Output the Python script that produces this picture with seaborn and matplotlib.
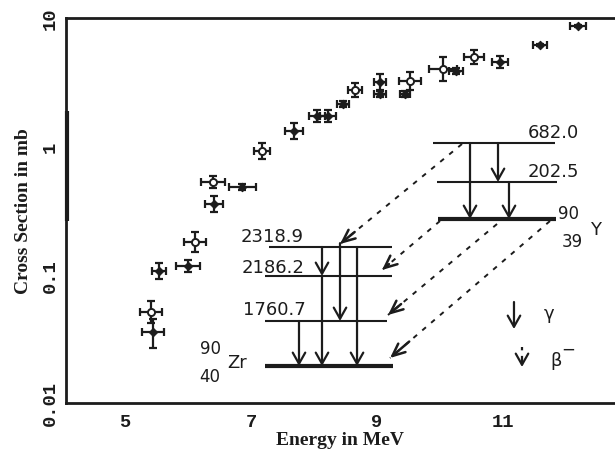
import numpy as np
import pandas as pd
import matplotlib
matplotlib.use("Agg")
import matplotlib.pyplot as plt
import seaborn as sns

# ---- data ----
energy = [5.41, 5.44, 5.54, 6.00, 6.11, 6.40, 6.41, 6.86, 7.17, 7.68, 8.05, 8.22,
          8.46, 8.65, 9.05, 9.05, 9.52, 9.44, 10.05, 10.25, 10.54, 10.95, 11.59, 12.19]
sigma = [0.051, 0.036, 0.107, 0.117, 0.180, 0.528, 0.356, 0.483, 0.92, 1.32, 1.73, 1.73,
         2.14, 2.75, 3.18, 2.56, 3.23, 2.56, 4.01, 3.87, 4.97, 4.55, 6.17, 8.68]
sigma_lo = [0.042, 0.0268, 0.093, 0.105, 0.150, 0.474, 0.309, 0.458, 0.797, 1.144, 1.554, 1.554,
            2.028, 2.425, 2.756, 2.427, 2.749, 2.427, 3.234, 3.668, 4.383, 4.088, 6.06, 8.53]
sigma_hi = [0.062, 0.045, 0.123, 0.130, 0.215, 0.588, 0.411, 0.510, 1.062, 1.523, 1.925, 1.925,
            2.258, 3.119, 3.670, 2.701, 3.795, 2.701, 4.972, 4.083, 5.636, 5.064, 6.28, 8.84]
energy_err = [0.175, 0.175, 0.11, 0.19, 0.175, 0.19, 0.14, 0.21, 0.13, 0.14, 0.13, 0.13,
              0.095, 0.11, 0.095, 0.095, 0.175, 0.08, 0.22, 0.11, 0.16, 0.13, 0.11, 0.13]
marker_kind = ["open", "filled", "filled", "filled", "open", "open", "filled", "filled",
               "open", "filled", "filled", "filled", "filled", "open", "filled", "filled",
               "open", "filled", "open", "filled", "open", "filled", "filled", "filled"]

x_ticks = [5, 6, 7, 8, 9, 10, 11, 12]
x_ticklabels = ["5", "", "7", "", "9", "", "11", ""]
y_ticks = [0.01, 0.1, 1, 10]
y_ticklabels = ["0.01", "0.1", "1", "10"]

# level scheme (schematic levels, keV)
zr_levels = ["2318.9", "2186.2", "1760.7"]
y_levels = ["682.0", "202.5"]

df = pd.DataFrame({"E": energy, "s": sigma, "kind": marker_kind})

sns.set_style("white")
plt.rcParams["font.family"] = ["DejaVu Sans"]

INK = "#1c1c1c"
fig = plt.figure(figsize=(6.15, 4.52), dpi=100)
ax = fig.add_axes([66 / 615, 1 - 404 / 452, 1 - 66 / 615, (404 - 19) / 452])

ax.errorbar(energy, sigma, xerr=energy_err,
            yerr=[np.array(sigma) - np.array(sigma_lo), np.array(sigma_hi) - np.array(sigma)],
            fmt="none", ecolor=INK, elinewidth=1.6, capsize=3, capthick=1.6, zorder=2)
sns.scatterplot(data=df[df.kind == "filled"], x="E", y="s", marker="D", s=18,
                color=INK, edgecolor=INK, linewidth=0.8, ax=ax, zorder=3, legend=False)
sns.scatterplot(data=df[df.kind == "open"], x="E", y="s", marker="o", s=26,
                facecolor="white", edgecolor=INK, linewidth=1.4, ax=ax, zorder=3, legend=False)

ax.set_yscale("log")
ax.set_xlim(4.06, 12.78)
ax.set_ylim(0.01, 10)

ax.set_xticks(x_ticks)
ax.set_xticklabels(x_ticklabels, fontfamily="Liberation Mono", fontsize=13.5, fontweight="bold")
ax.set_yticks(y_ticks)
ax.set_yticklabels(y_ticklabels, fontfamily="Liberation Mono", fontsize=13.5, fontweight="bold",
                   rotation=90, va="center")
ax.tick_params(axis="x", direction="in", length=6, width=2.2, pad=7, colors=INK)
ax.tick_params(axis="y", which="major", direction="in", length=8, width=1.6, pad=5, colors=INK)
ax.tick_params(axis="y", which="minor", direction="in", length=4, width=1.2, colors=INK)
ax.minorticks_on()
ax.tick_params(axis="x", which="minor", bottom=False)

for side in ["left", "bottom", "top"]:
    ax.spines[side].set_linewidth(2.0)
    ax.spines[side].set_color(INK)
ax.spines["right"].set_visible(False)
# darker stretch of the left frame, as in the scan
ax.plot([0.001, 0.001], [0.473, 0.758], color=INK, lw=3, transform=ax.transAxes, clip_on=False,
        solid_capstyle="butt", zorder=6)

ax.set_xlabel("Energy in MeV", fontfamily="Liberation Serif", fontsize=14, fontweight="bold",
              labelpad=1, color=INK)
ax.set_ylabel("Cross Section in mb", fontfamily="Liberation Serif", fontsize=14, fontweight="bold",
              labelpad=7, color=INK)

# ---- level scheme (axes-fraction coordinates) ----
T = ax.transAxes
def hline(x0, x1, y, lw=1.5):
    ax.plot([x0, x1], [y, y], color=INK, lw=lw, transform=T, zorder=4, solid_capstyle="butt")

def head(x0, y0, x1, y1, hl=0.8, hw=0.45, lw=1.6):
    ax.annotate("", xy=(x1, y1), xytext=(x0, y0), xycoords=T, textcoords=T,
                arrowprops=dict(arrowstyle=f"->,head_length={hl},head_width={hw}",
                                color=INK, lw=lw, shrinkA=0, shrinkB=0), zorder=5)

def garrow(x, y0, y1):
    head(x, y0, x, y1)

def barrow(x0, y0, x1, y1):
    ax.plot([x0, x1], [y0, y1], color=INK, lw=1.4, ls=(0, (2.5, 3.5)), transform=T, zorder=4)
    head(x1 + (x0 - x1) * 0.12, y1 + (y0 - y1) * 0.12, x1, y1, hl=0.9, hw=0.4, lw=1.8)

# Zr levels
zr_y = [0.4052, 0.3299, 0.2130]
hline(0.3698, 0.5938, zr_y[0])
hline(0.3625, 0.5938, zr_y[1])
hline(0.3625, 0.5850, zr_y[2])
hline(0.3625, 0.5956, 0.0961, lw=3.0)
for lab, yy, xx in zip(zr_levels, [0.4338, 0.3532, 0.2442], [0.3752, 0.3770, 0.3789]):
    ax.text(xx, yy, lab, transform=T, ha="center", va="center", fontsize=13, color=INK)
ax.text(0.2623, 0.1429, "90", transform=T, ha="center", va="center", fontsize=12, color=INK)
ax.text(0.3115, 0.1065, "Zr", transform=T, ha="center", va="center", fontsize=13, color=INK)
ax.text(0.2623, 0.0701, "40", transform=T, ha="center", va="center", fontsize=12, color=INK)

garrow(0.4244, zr_y[2], 0.0961)
garrow(0.4663, zr_y[0], zr_y[1])
garrow(0.4663, zr_y[1], 0.0961)
garrow(0.4991, zr_y[0] + 0.01, zr_y[2])
garrow(0.5301, zr_y[0], 0.0961)

# Y levels
yy_lv = [0.6753, 0.5740]
hline(0.6685, 0.8907, yy_lv[0])
hline(0.6758, 0.8944, yy_lv[1])
hline(0.6776, 0.8925, 0.4779, lw=3.0)
ax.text(0.8871, 0.7039, y_levels[0], transform=T, ha="center", va="center", fontsize=13, color=INK)
ax.text(0.8871, 0.6026, y_levels[1], transform=T, ha="center", va="center", fontsize=13, color=INK)
ax.text(0.9144, 0.4935, "90", transform=T, ha="center", va="center", fontsize=12, color=INK)
ax.text(0.9654, 0.4519, "Y", transform=T, ha="center", va="center", fontsize=13, color=INK)
ax.text(0.9217, 0.4208, "39", transform=T, ha="center", va="center", fontsize=12, color=INK)

garrow(0.7359, yy_lv[0], 0.4779)
garrow(0.7869, yy_lv[0], yy_lv[1])
garrow(0.8069, yy_lv[1], 0.4779)

# beta feeding (dashed)
barrow(0.7213, 0.6727, 0.4991, 0.4130)
barrow(0.6812, 0.4727, 0.5756, 0.3455)
barrow(0.7851, 0.4649, 0.5865, 0.2286)
barrow(0.8816, 0.4727, 0.5902, 0.1169)

# legend
garrow(0.8160, 0.2623, 0.1922)
ax.text(0.8798, 0.2338, "γ", transform=T, ha="center", va="center", fontsize=13, color=INK)
ax.plot([0.8306, 0.8306], [0.1455, 0.1100], color=INK, lw=1.6, ls=(0, (1.5, 2.5)),
        transform=T, zorder=4)
head(0.8306, 0.1150, 0.8306, 0.0935)
ax.text(0.8925, 0.1117, "β", transform=T, ha="center", va="center", fontsize=13, color=INK)
ax.text(0.9144, 0.1403, "−", transform=T, ha="center", va="center", fontsize=12, color=INK)

fig.savefig("out.png", dpi=100)
